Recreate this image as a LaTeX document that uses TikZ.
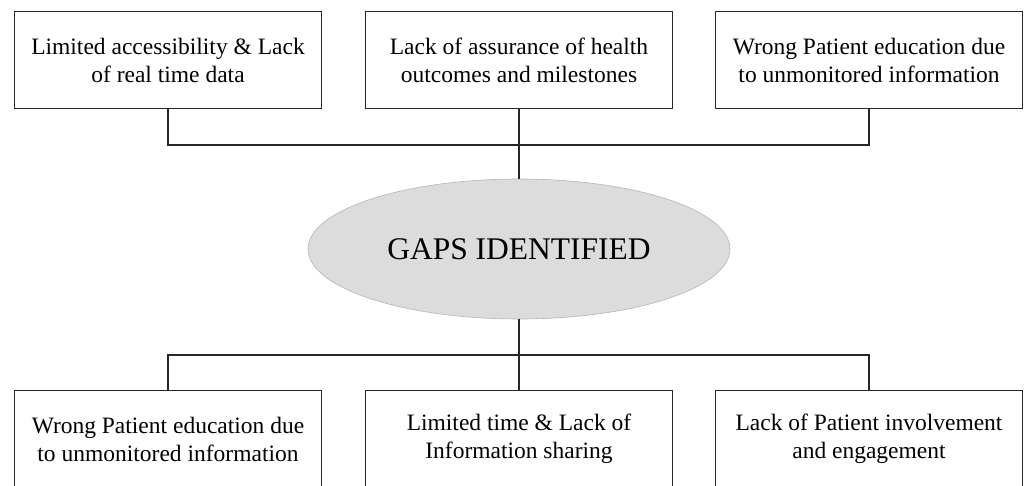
\documentclass[tikz,border=0pt]{standalone}
\usepackage{fontspec}
\setmainfont{Liberation Serif}
\usetikzlibrary{shapes.geometric}

\definecolor{gapfill}{HTML}{DCDCDC}
\definecolor{gapline}{HTML}{B4B4B4}

\begin{document}
\begin{tikzpicture}[x=1pt,y=-1pt,
    gap_box/.style={draw=black!85, line width=1.3pt, minimum width=307pt, minimum height=97pt,
        inner sep=0pt, align=center, font=\fontsize{23.5}{28}\selectfont},
    gap_oval/.style={ellipse, draw=gapline, fill=gapfill, line width=0.6pt,
        minimum width=422pt, minimum height=140pt, font=\fontsize{31.5}{36}\selectfont},
    bus/.style={draw=black!85, line width=1.3pt}]
    \useasboundingbox (0,0) rectangle (1030,486);
    \clip (0,0) rectangle (1030,486);

    % gaps above the oval
    \node[gap_box] (t1) at (168, 60) {Limited accessibility \& Lack\\of real time data};
    \node[gap_box] (t2) at (519, 60) {Lack of assurance of health\\outcomes and milestones};
    \node[gap_box] (t3) at (869, 60) {Wrong Patient education due\\to unmonitored information};

    \node[gap_oval] (gaps) at (519, 249) {GAPS IDENTIFIED};

    % gaps below the oval
    \node[gap_box] (b1) at (168, 439) {Wrong Patient education due\\to unmonitored information};
    \node[gap_box] (b2) at (519, 439) {Limited time \& Lack of\\Information sharing};
    \node[gap_box] (b3) at (869, 439) {Lack of Patient involvement\\and engagement};

    \coordinate (topbus) at (519, 145);
    \coordinate (lowbus) at (519, 355);

    \draw[bus] (t1.south) -- (t1.south |- topbus) -- (t3.south |- topbus) -- (t3.south);
    \draw[bus] (t2.south) -- (gaps.north);
    \draw[bus] (b1.north) -- (b1.north |- lowbus) -- (b3.north |- lowbus) -- (b3.north);
    \draw[bus] (gaps.south) -- (b2.north);
\end{tikzpicture}
\end{document}
